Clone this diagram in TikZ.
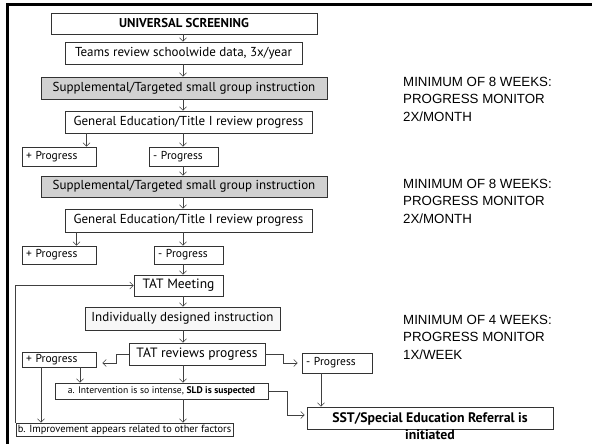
\documentclass[tikz,border=0pt]{standalone}
\usepackage{fontspec}
\setmainfont{PT Sans}
\newfontfamily\notefont{Liberation Sans}
\usetikzlibrary{arrows.meta}
\begin{document}
\begin{tikzpicture}[x=1pt,y=-1pt,
  box/.style={draw=black!80,line width=0.9pt,inner sep=0pt,font=\fontsize{13}{15}\selectfont},
  shade/.style={fill=black!18},
  pale/.style={fill=black!3},
  small/.style={font=\fontsize{11.5}{13}\selectfont},
  tiny/.style={font=\fontsize{9.6}{11}\selectfont},
  heavy/.style={font=\bfseries\fontsize{12.8}{14}\selectfont},
  arr/.style={draw=black!75,line width=0.5pt,-{Straight Barb[length=3.5pt,width=7pt]}},
  note/.style={anchor=north west,align=left,inner sep=0pt,
    font=\notefont\fontsize{13.3}{17.5}\selectfont},
  frame/.style={line width=3pt,draw=black}]
\useasboundingbox (0,0) rectangle (592,444);
\fill[white] (0,0) rectangle (592,444);
% outer frame: top and left rules
\draw[frame] (592,4.8) -- (7.5,4.8) -- (7.5,444);

% main column
\node[box,minimum width=266pt,minimum height=21pt,heavy] (us) at (184,23.5) {UNIVERSAL SCREENING};
\node[box,minimum width=237pt,minimum height=22pt] (teams) at (183.5,53) {Teams review schoolwide data, 3x/year};
\node[box,shade,minimum width=286pt,minimum height=22pt] (sup1) at (184,88) {Supplemental/Targeted small group instruction};
\node[box,minimum width=247pt,minimum height=22pt] (ge1) at (188.5,122) {General Education/Title I review progress};
\node[box,small,minimum width=74pt,minimum height=19pt,text width=66pt,align=left] (p1) at (59,156.5) {+ Progress};
\node[box,small,minimum width=69pt,minimum height=19pt,text width=61pt,align=left] (m1) at (183.5,156.5) {- Progress};
\node[box,shade,minimum width=286pt,minimum height=21pt] (sup2) at (184,186.5) {Supplemental/Targeted small group instruction};
\node[box,minimum width=247pt,minimum height=23pt] (ge2) at (188.5,220.5) {General Education/Title I review progress};
\node[box,small,minimum width=74pt,minimum height=18pt,text width=66pt,align=left] (p2) at (59,255) {+ Progress};
\node[box,small,minimum width=69pt,minimum height=18pt,text width=61pt,align=left] (m2) at (188.5,255) {- Progress};
\node[box,minimum width=89pt,minimum height=21pt,font=\fontsize{13.5}{15}\selectfont] (tat) at (178.5,285.5) {TAT Meeting};
\node[box,pale,minimum width=195pt,minimum height=23pt] (ind) at (182.5,318.5) {Individually designed instruction};
\node[box,minimum width=136pt,minimum height=22pt,font=\fontsize{13.5}{15}\selectfont] (tr) at (197,354) {TAT reviews progress};
\node[box,small,minimum width=74pt,minimum height=15pt,text width=66pt,align=left] (p3) at (59,359.5) {+ Progress};
\node[box,small,minimum width=70pt,minimum height=20pt,text width=62pt,align=left] (m3) at (337,363) {- Progress};
\node[box,tiny,minimum width=213pt,minimum height=16pt] (ia) at (161.5,391)
  {a. Intervention is so intense, {\bfseries SLD is suspected}};
\node[box,minimum width=217pt,minimum height=13pt,font=\fontsize{10.4}{11}\selectfont] (ib) at (124.5,429.5)
  {b. Improvement appears related to other factors};
\node[box,minimum width=246pt,minimum height=22pt] (sst) at (430,418) {};
\node[align=center,anchor=north,inner sep=0pt,font=\bfseries\fontsize{13.8}{17}\selectfont] (ssttext) at (430,412)
  {SST/Special Education Referral is\\initiated};

% timing notes
\node[note] (n1) at (403,77) {MINIMUM OF 8 WEEKS:\\PROGRESS MONITOR\\2X/MONTH};
\node[note] (n2) at (403,179) {MINIMUM OF 8 WEEKS:\\PROGRESS MONITOR\\2X/MONTH};
\node[note] (n3) at (403,315) {MINIMUM OF 4 WEEKS:\\PROGRESS MONITOR\\1X/WEEK};

% connectors
\coordinate (col) at (183,0);
\draw[arr] (us.south -| col) -- (teams.north -| col);
\draw[arr] (teams.south -| col) -- (sup1.north -| col);
\draw[arr] (sup1.south -| col) -- (ge1.north -| col);
\path (p1.north east) ++(-10,0) coordinate (p1a);
\draw[arr] (ge1.south -| p1a) -- (p1a);
\draw[arr] (ge1.south -| col) -- (m1.north -| col);
\draw[arr] (m1.south -| col) -- (sup2.north -| col);
\draw[arr] (sup2.south -| col) -- (ge2.north -| col);
\path (p2.north east) ++(-20,0) coordinate (p2a);
\draw[arr] (ge2.south -| p2a) -- (p2a);
\draw[arr] (ge2.south -| col) -- (m2.north -| col);
\draw[arr] (m2.south -| col) -- (tat.north -| col);
\draw[arr] (tat.south -| col) -- (ind.north -| col);
\draw[arr] (ind.south -| col) -- (tr.north -| col);
\draw[arr] (tr.south -| col) -- (ia.north -| col);
\draw[arr] (ia.south -| col) -- (ib.north -| col);
% side branches from the TAT review
\draw[arr] (tr.west) -- ++(-12,0) |- ([xshift=6pt,yshift=-3.5pt]p3.east);
\draw[arr] (tr.east) -- ++(18,0) |- ([xshift=-4pt]m3.west);
\draw[arr] ([xshift=21pt]p3.south) -- ([xshift=21pt]p3.south |- ia.north);
\draw[arr] ([xshift=-18pt]p3.south) -- ([xshift=-18pt]p3.south |- ib.north);
\draw[arr] (ia.east) -- ++(19,0) |- ([xshift=-2pt,yshift=3pt]sst.west);
\draw[arr] ([xshift=-16pt]m3.south) -- ([xshift=-16pt]m3.south |- sst.north);
% loop back to the TAT meeting
\draw[arr] (ib.north west) -- (ib.north west |- tat.west) -- (tat.west);
\end{tikzpicture}
\end{document}
